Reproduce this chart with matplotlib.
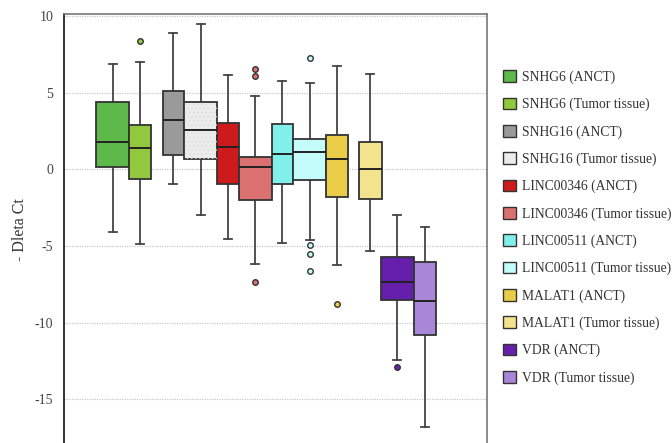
import numpy as np
import matplotlib
matplotlib.use('Agg')
import matplotlib.pyplot as plt
from matplotlib.patches import Patch, Rectangle

plt.rcParams['font.family'] = ['Liberation Serif', 'DejaVu Serif']
plt.rcParams['hatch.linewidth'] = 0.4

# Data
labels = ['SNHG6 (ANCT)', 'SNHG6 (Tumor tissue)',
          'SNHG16 (ANCT)', 'SNHG16 (Tumor tissue)',
          'LINC00346 (ANCT)', 'LINC00346 (Tumor tissue)',
          'LINC00511 (ANCT)', 'LINC00511 (Tumor tissue)',
          'MALAT1 (ANCT)', 'MALAT1 (Tumor tissue)',
          'VDR (ANCT)', 'VDR (Tumor tissue)']
whislo = [-4.11, -4.89, -0.98, -3.00, -4.57, -6.20, -4.78, -4.61, -6.26, -5.35, -12.43, -16.80]
q1     = [0.13, -0.63, 0.93, 0.65, -0.98, -2.02, -0.98, -0.70, -1.80, -1.96, -8.50, -10.80]
med    = [1.76, 1.41, 3.20, 2.54, 1.43, 0.13, 1.02, 1.13, 0.65, 0.00, -7.37, -8.57]
q3     = [4.37, 2.89, 5.13, 4.37, 3.02, 0.78, 2.96, 2.00, 2.22, 1.76, -5.74, -6.07]
whishi = [6.85, 6.98, 8.85, 9.50, 6.15, 4.80, 5.72, 5.63, 6.76, 6.24, -3.00, -3.74]
fliers = [[], [8.39], [], [], [], [6.52, 6.09, -7.37],
          [], [7.28, -4.93, -5.52, -6.63], [-8.78], [], [-12.89], []]

colors = ['#5cb94a', '#92c83e', '#9a9a9a', '#ececec', '#cc1a1d', '#db7070',
          '#82f0ea', '#c4fcfc', '#e9cc48', '#f3e38c', '#661fab', '#aa86d8']

# layout of the boxes (horizontal position and width)
positions = [48.5, 76.0, 109.0, 136.4, 163.7, 190.9, 218.2, 245.5, 273.0, 306.2, 333.2, 360.7]
widths = [33, 22, 21.3, 33.3, 21.4, 33, 21.6, 33, 22, 22.4, 33, 22]

fig = plt.figure(figsize=(6.72, 4.43), dpi=100)
ax = fig.add_axes([64.3 / 672, 0.0, 423 / 672, 1 - 14.3 / 443])

stats = []
for i in range(len(labels)):
    stats.append(dict(whislo=whislo[i], q1=q1[i], med=med[i], q3=q3[i],
                      whishi=whishi[i], fliers=fliers[i]))

bp = ax.bxp(stats, positions=positions, widths=widths, capwidths=8,
            patch_artist=True, manage_ticks=False,
            boxprops=dict(edgecolor='#333333', linewidth=1.3),
            medianprops=dict(color='#222222', linewidth=1.4),
            whiskerprops=dict(color='#444444', linewidth=1.3),
            capprops=dict(color='#444444', linewidth=1.3),
            flierprops=dict(marker='o', markersize=4, markeredgecolor='#333333',
                            markeredgewidth=1.0))
for i, box in enumerate(bp['boxes']):
    box.set_facecolor(colors[i])
    box.set_zorder(3)
    bp['fliers'][i].set_markerfacecolor(colors[i])
for m in bp['medians']:
    m.set_zorder(5)

# faint stipple on the light grey box
k = 3
ax.add_patch(Rectangle((positions[k] - widths[k] / 2, q1[k]), widths[k], q3[k] - q1[k],
                       facecolor='none', edgecolor='#d6d6d6', linewidth=0,
                       hatch='....', zorder=4))

ax.set_xlim(0, 423)
ax.set_ylim(-17.85, 10.1)
ax.set_yticks([10, 5, 0, -5, -10, -15])
ax.set_yticklabels(['10', '5', '0', '-5', '-10', '-15'])
ax.set_xticks([])
ax.tick_params(axis='y', length=0, labelsize=10, labelcolor='#444444', pad=8)
ax.yaxis.grid(True, linestyle=(0, (1, 1)), color='#c8c8c8', linewidth=0.9)
ax.set_axisbelow(True)
for s in ['top', 'right']:
    ax.spines[s].set_color('#777777')
    ax.spines[s].set_linewidth(1.2)
ax.spines['left'].set_color('#222222')
ax.spines['left'].set_linewidth(1.3)
ax.spines['bottom'].set_visible(False)

fig.text(20 / 672, 1 - 230 / 443, '- Dleta Ct', rotation=90, ha='center', va='center',
         fontsize=11.5, color='#333333')

handles = [Patch(facecolor=c, edgecolor='#333333', linewidth=1.0) for c in colors]
fig.legend(handles, labels, loc='upper left', bbox_to_anchor=(491 / 672, 1 - 58 / 443),
           frameon=False, fontsize=9.8, handlelength=0.95, handleheight=0.95,
           handletextpad=0.45, labelspacing=1.0, labelcolor='#333333')

fig.savefig('out.png', dpi=100)
